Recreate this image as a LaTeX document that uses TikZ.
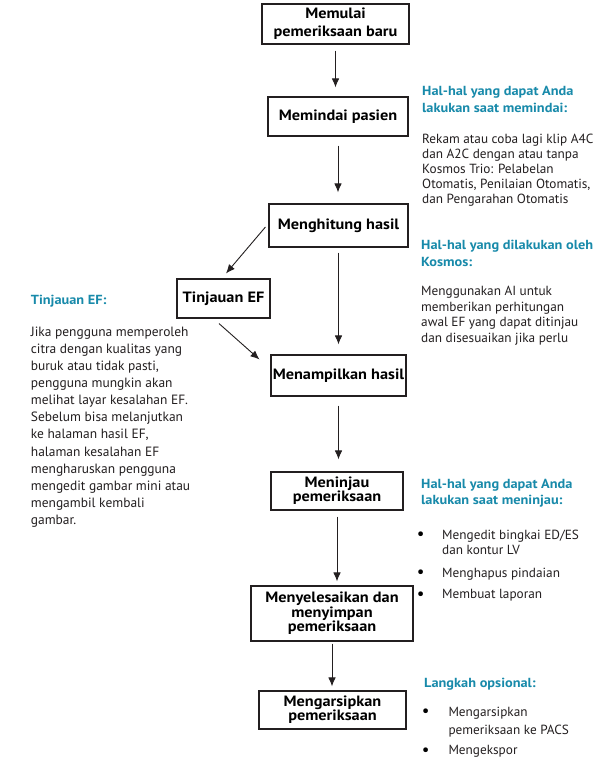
\documentclass[tikz,border=0pt]{standalone}
\usepackage{fontspec}
\setmainfont{PT Sans}
\newfontfamily\boxfont[FakeStretch=1.09]{PT Sans}
\newfontfamily\headfont[FakeStretch=1.09]{PT Sans}
\usetikzlibrary{arrows.meta,calc}
\definecolor{teal}{RGB}{24,138,170}
\definecolor{ink}{RGB}{35,31,32}
\begin{document}
\begin{tikzpicture}[x=1bp,y=-1bp,
  box/.style={draw=ink,line width=1.1bp,inner sep=0,align=center,text=black,
    font=\fontsize{15}{15}\boxfont\bfseries},
  arr/.style={draw=ink,line width=0.9bp,-{Latex[length=9bp,width=7.5bp]}},
  head/.style={anchor=north west,inner sep=0,align=left,text=teal,
    font=\fontsize{13.2}{17}\headfont\bfseries},
  body/.style={anchor=north west,inner sep=0,align=left,text=ink,
    font=\fontsize{13.3}{15}\selectfont},
  bul/.style={anchor=center,inner sep=0,text=black,font=\fontsize{17}{17}\selectfont}]
\useasboundingbox[fill=white] (0,0) rectangle (604,761);
% boxes
\node[box,minimum width=147bp,minimum height=40bp,font=\fontsize{15}{18}\boxfont\bfseries] (b1) at (335.5,24) {Memulai\\pemeriksaan baru};
\node[box,minimum width=140bp,minimum height=39bp] (b2) at (338,116.5) {Memindai pasien};
\node[box,minimum width=139bp,minimum height=43bp] (b3) at (338.5,225.5) {Menghitung hasil};
\node[box,minimum width=93bp,minimum height=39bp] (b4) at (223.5,298.5) {Tinjauan EF};
\node[box,minimum width=135bp,minimum height=41bp] (b5) at (338.5,375.5) {Menampilkan hasil};
\node[box,minimum width=132bp,minimum height=38bp,font=\fontsize{15}{14}\boxfont\bfseries] (b6) at (337,491) {Meninjau\\pemeriksaan};
\node[box,minimum width=162bp,minimum height=55bp,font=\fontsize{15}{14.5}\boxfont\bfseries] (b7) at (332,613.5) {Menyelesaikan dan\\menyimpan\\pemeriksaan};
\node[box,minimum width=147bp,minimum height=38bp,font=\fontsize{15}{14}\boxfont\bfseries] (b8) at (332.5,710) {Mengarsipkan\\pemeriksaan};
% arrows
\draw[arr,shorten <=6bp,shorten >=9bp] (b1.south) -- (b1.south |- b2.north);
\draw[arr,shorten <=9bp,shorten >=11bp] (b2.south) -- (b2.south |- b3.north);
\draw[arr,shorten <=5bp,shorten >=10bp] (b3.south) -- (b3.south |- b5.north);
\draw[arr] ($(b3.west)+(-3,1.5)$) -- ($(b4.north)+(2.5,-5)$);
\draw[arr] ($(b4.south)+(-4.5,5)$) -- ($(b5.north west)+(-11,5)$);
\draw[arr,shorten <=9bp,shorten >=12bp] (b5.south) -- (b5.south |- b6.north);
\draw[arr,shorten <=6bp,shorten >=4bp] (b6.south) -- (b6.south |- b7.north);
\draw[arr,shorten <=2bp,shorten >=4bp] (b7.south) -- (b7.south |- b8.north);
% right texts
\node[head] (h1) at (422,85.6) {Hal-hal yang dapat Anda\\lakukan saat memindai:};
\node[body] (t1) at (422,133.8) {Rekam atau coba lagi klip A4C\\dan A2C dengan atau tanpa\\Kosmos Trio: Pelabelan\\Otomatis, Penilaian Otomatis,\\dan Pengarahan Otomatis};
\node[head] (h2) at (421,240) {Hal-hal yang dilakukan oleh\\Kosmos:};
\node[body,font=\fontsize{13.3}{15.7}\selectfont] (t2) at (421,286) {Menggunakan AI untuk\\memberikan perhitungan\\awal EF yang dapat ditinjau\\dan disesuaikan jika perlu};
% left texts
\node[head] (h0) at (30.7,295) {Tinjauan EF:};
\node[body,font=\fontsize{13.5}{17.2}\selectfont] (t0) at (30.7,326.4) {Jika pengguna memperoleh\\citra dengan kualitas yang\\buruk atau tidak pasti,\\pengguna mungkin akan\\melihat layar kesalahan EF.\\Sebelum bisa melanjutkan\\ke halaman hasil EF,\\halaman kesalahan EF\\mengharuskan pengguna\\mengedit gambar mini atau\\mengambil kembali\\gambar.};
% meninjau
\node[head,font=\fontsize{13.2}{15.5}\headfont\bfseries] (h3) at (421,479.3) {Hal-hal yang dapat Anda\\lakukan saat meninjau:};
\node[bul] (d1) at (420.7,535.7) {•};
\node[body] (i1) at (442,529.5) {Mengedit bingkai ED/ES\\dan kontur LV};
\node[bul] (d2) at (420.7,574) {•};
\node[body] (i2) at (442,567.8) {Menghapus pindaian};
\node[bul] (d3) at (420.7,595.7) {•};
\node[body] (i3) at (442,589.5) {Membuat laporan};
% optional
\node[head] (h4) at (424,678.3) {Langkah opsional:};
\node[bul] (d4) at (425.7,712.7) {•};
\node[body,font=\fontsize{13.3}{18}\selectfont] (i4) at (448.3,706.5) {Mengarsipkan\\pemeriksaan ke PACS};
\node[bul] (d5) at (425.7,751.7) {•};
\node[body] (i5) at (448.3,745.5) {Mengekspor};
\end{tikzpicture}
\end{document}
